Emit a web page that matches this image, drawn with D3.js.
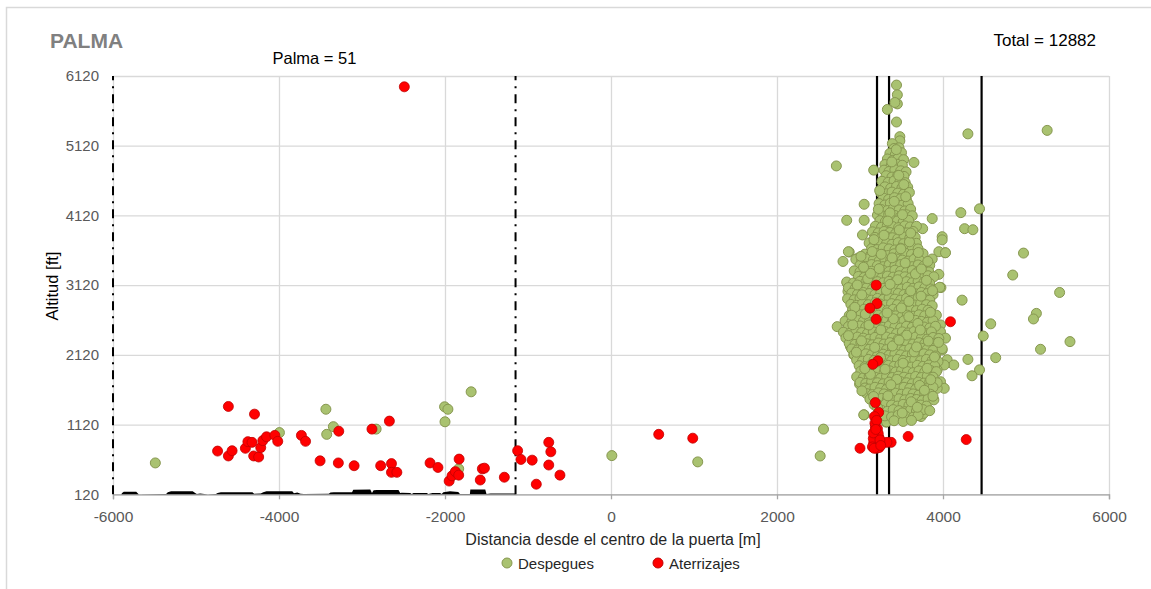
<!DOCTYPE html>
<html>
<head>
<meta charset="utf-8">
<script src="https://cdn.jsdelivr.net/npm/d3@7"></script>
<style>
  html, body { margin: 0; padding: 0; background: #ffffff; }
  svg { display: block; font-family: "Liberation Sans", Arial, sans-serif; }
</style>
</head>
<body>
<script>
// Axis ticks
const xTicks = [-6000, -4000, -2000, 0, 2000, 4000, 6000];
const yTicks = [120, 1120, 2120, 3120, 4120, 5120, 6120];

// Reference lines (distance in m)
const gateLines = [-6000, -1150];
const runwayLines = [3205, 3350, 4465];

// Ground profile under the approach path [distance m, altitude ft]
const terrain = [
  [-5900,120],[-5890,140],[-5870,155],[-5720,155],[-5700,130],[-5690,122],[-5360,124],[-5340,150],
  [-5300,162],[-5040,162],[-5010,140],[-4990,124],[-4950,133],[-4900,126],[-4860,122],[-4760,126],
  [-4740,140],[-4700,150],[-4320,150],[-4300,128],[-4220,132],[-4190,150],[-4150,162],[-3840,162],
  [-3820,135],[-3780,145],[-3740,128],[-3700,124],[-3400,128],[-3380,145],[-3340,150],[-3120,150],
  [-3105,185],[-2900,188],[-2880,140],[-2860,178],[-2820,182],[-2560,182],[-2540,140],[-2520,142],
  [-2420,140],[-2400,124],[-2380,140],[-2220,140],[-2200,124],[-2150,138],[-2060,138],[-2040,124],
  [-2020,150],[-1940,165],[-1840,152],[-1820,124],[-1700,124],[-1695,190],[-1515,190],[-1500,124],
  [-1450,132],[-1160,132],[-1150,120]
];

// Departures [distance m, altitude ft]
const takeoffs = [
  // scattered
  [-5490,570],[-3995,1005],[-3435,1340],[-3345,1090],[-3425,980],[-2830,1055],[-1685,1590],
  [-2005,1375],[-1965,1340],[-2000,1160],[-1835,485],[10,675],[1045,585],[2560,1055],[2520,670],
  [3050,1260],[3315,1155],
  [4970,3580],[4840,3265],[5405,3015],[5125,2715],[5090,2635],[5530,2310],[5175,2200],[4575,2565],
  [4485,2390],[4635,2080],[4300,2055],[4440,1905],[4350,1820],[4230,2905],[5255,5340],[4300,5290],
  [2715,4830],[3165,4770],[3650,4880],[3050,4280],[2840,4050],[3050,4050],[3030,3840],[2870,3595],
  [4215,4160],[4440,4215],[4260,3930],[4360,3915],[3990,3815],[3870,4075],[3755,3930],[4025,3585],
  [3950,3600],
  // cluster edges
  [3990,3770],[4030,3585],[3870,3495],[3825,3305],[3950,3275],[3835,3120],[3975,3085],[3850,2755],
  [3970,2550],[3970,2450],[4030,2360],[3990,2190],[4050,2050],[4130,1975],[4015,1975],[3930,1905],
  [3970,1735],[4015,1640],[3930,1640],
  [2860,3600],[2795,3460],[2845,3150],[2855,3030],[2725,2525],[2825,2455],[2870,2525],[2885,2240],
  [2925,2120],[3025,1830],[2995,1700],[3065,1615],[2980,3510],[3065,3470],
  [3045,1260],[3320,1160],[3735,1235],[3765,1280],[3400,1285],
  // upper column
  [3440,5990],[3450,5850],[3450,5720],[3420,5740],[3330,5640],[3440,5460],[3480,5250],[3480,5190],[3390,5150],
  [3410,5080],[3470,5090],
  [3360,5010],[3425,4990],[3500,5020],
  [3330,4930],[3395,4910],[3460,4940],[3525,4920],
  [3300,4850],[3375,4830],[3445,4855],[3510,4840],
  [3290,4770],[3350,4750],[3420,4775],[3490,4760],[3555,4745],
  [3315,4690],[3385,4670],[3455,4695],[3530,4680],
  [3265,4610],[3340,4595],[3410,4615],[3480,4600],[3545,4590],
  [3300,4530],[3370,4510],[3440,4535],[3505,4515],[3575,4525],
  [3250,4445],[3320,4430],[3385,4455],[3455,4440],[3525,4425],[3595,4450],
  [3280,4370],[3345,4350],[3415,4375],[3490,4360],[3560,4345],
  [3230,4290],[3300,4270],[3365,4295],[3440,4280],[3505,4265],[3580,4290],
  [3255,4205],[3330,4190],[3400,4215],[3470,4200],[3540,4185],[3610,4210],
  [3210,4125],[3280,4110],[3345,4135],[3420,4120],[3490,4105],[3560,4130],[3630,4115],
  [3240,4045],[3305,4030],[3380,4055],[3450,4040],[3520,4025],[3585,4050],
  [3185,3965],[3260,3950],[3330,3975],[3395,3960],[3465,3945],[3540,3970],[3605,3955],[3680,3965],
  [3150,3885],[3220,3870],[3290,3890],[3360,3875],[3430,3860],[3500,3885],[3570,3870],[3640,3890],
  [3180,3805],[3250,3790],[3320,3815],[3390,3800],[3455,3785],[3530,3810],[3600,3795],[3665,3805],
  [3110,3725],[3175,3710],[3250,3735],[3320,3720],[3385,3705],[3460,3730],[3525,3715],[3600,3740],[3680,3720],
  [3140,3645],[3205,3630],[3280,3655],[3350,3640],[3420,3625],[3490,3650],[3560,3635],[3630,3655],[3700,3640],
  // main body
  [3060,3565],[3130,3550],[3195,3575],[3270,3560],[3340,3545],[3410,3570],[3480,3555],[3550,3575],[3620,3560],[3690,3545],[3760,3570],
  [2950,3490],[3020,3470],[3090,3495],[3160,3480],[3230,3465],[3300,3490],[3370,3475],[3440,3495],[3510,3480],[3580,3465],[3650,3490],[3720,3475],
  [3000,3405],[3070,3390],[3140,3415],[3210,3400],[3280,3385],[3350,3410],[3420,3395],[3490,3415],[3560,3400],[3630,3385],[3700,3410],[3770,3395],[3840,3405],
  [2930,3325],[3000,3310],[3065,3335],[3140,3320],[3210,3305],[3280,3330],[3350,3315],[3420,3335],[3490,3320],[3560,3305],[3630,3330],[3700,3315],[3770,3335],[3830,3310],
  [2980,3245],[3050,3230],[3120,3255],[3190,3240],[3260,3225],[3330,3250],[3400,3235],[3470,3255],[3540,3240],[3610,3225],[3680,3250],[3750,3235],[3820,3255],[3890,3240],
  [2840,3165],[2920,3150],[3000,3175],[3070,3160],[3140,3145],[3210,3170],[3280,3155],[3350,3175],[3420,3160],[3490,3145],[3560,3170],[3630,3155],[3700,3175],[3770,3160],[3840,3145],
  [2860,3085],[2940,3070],[3010,3095],[3080,3080],[3150,3065],[3220,3090],[3290,3075],[3360,3095],[3430,3080],[3500,3065],[3570,3090],[3640,3075],[3710,3095],[3780,3080],[3850,3065],[3960,3090],
  [2900,3005],[2970,2990],[3040,3015],[3110,3000],[3180,2985],[3250,3010],[3320,2995],[3390,3015],[3460,3000],[3530,2985],[3600,3010],[3670,2995],[3740,3015],[3810,3000],[3880,2985],
  [2850,2925],[2930,2910],[3000,2935],[3070,2920],[3140,2905],[3210,2930],[3280,2915],[3350,2935],[3420,2920],[3490,2905],[3560,2930],[3630,2915],[3700,2935],[3770,2920],[3840,2905],
  [2890,2845],[2960,2830],[3030,2855],[3100,2840],[3170,2825],[3240,2850],[3310,2835],[3380,2855],[3450,2840],[3520,2825],[3590,2850],[3660,2835],[3730,2855],[3800,2840],[3870,2825],
  [2910,2765],[2980,2750],[3050,2775],[3120,2760],[3190,2745],[3260,2770],[3330,2755],[3400,2775],[3470,2760],[3540,2745],[3610,2770],[3680,2755],[3750,2775],[3820,2760],
  [2870,2685],[2940,2670],[3010,2695],[3080,2680],[3150,2665],[3220,2690],[3290,2675],[3360,2695],[3430,2680],[3500,2665],[3570,2690],[3640,2675],[3710,2695],[3780,2680],[3850,2665],[3920,2690],
  [2820,2605],[2900,2590],[2970,2615],[3040,2600],[3110,2585],[3180,2610],[3250,2595],[3320,2615],[3390,2600],[3460,2585],[3530,2610],[3600,2595],[3670,2615],[3740,2600],[3810,2585],[3880,2610],
  [2860,2525],[2930,2510],[3000,2535],[3070,2520],[3140,2505],[3210,2530],[3280,2515],[3350,2535],[3420,2520],[3490,2505],[3560,2530],[3630,2515],[3700,2535],[3770,2520],[3840,2505],[3910,2530],
  [2800,2445],[2880,2430],[2950,2455],[3020,2440],[3090,2425],[3160,2450],[3230,2435],[3300,2455],[3370,2440],[3440,2425],[3510,2450],[3580,2435],[3650,2455],[3720,2440],[3790,2425],[3860,2450],
  [2830,2365],[2900,2350],[2970,2375],[3040,2360],[3110,2345],[3180,2370],[3250,2355],[3320,2375],[3390,2360],[3460,2345],[3530,2370],[3600,2355],[3670,2375],[3740,2360],[3810,2345],[3880,2370],[3950,2355],
  [2870,2285],[2940,2270],[3010,2295],[3080,2280],[3150,2265],[3220,2290],[3290,2275],[3360,2295],[3430,2280],[3500,2265],[3570,2290],[3640,2275],[3710,2295],[3780,2280],[3850,2265],[3920,2290],
  [2900,2205],[2970,2190],[3040,2215],[3110,2200],[3180,2185],[3250,2210],[3320,2195],[3390,2215],[3460,2200],[3530,2185],[3600,2210],[3670,2195],[3740,2215],[3810,2200],[3880,2185],[3990,2210],
  [2930,2125],[3000,2110],[3070,2135],[3140,2120],[3210,2105],[3280,2130],[3350,2115],[3420,2135],[3490,2120],[3560,2105],[3630,2130],[3700,2115],[3770,2135],[3840,2120],[3910,2105],
  [2960,2045],[3030,2030],[3100,2055],[3170,2040],[3240,2025],[3310,2050],[3380,2035],[3450,2055],[3520,2040],[3590,2025],[3660,2050],[3730,2035],[3800,2055],[3870,2040],[3940,2025],
  [2990,1965],[3060,1950],[3130,1975],[3200,1960],[3270,1945],[3340,1970],[3410,1955],[3480,1975],[3550,1960],[3620,1945],[3690,1970],[3760,1955],[3830,1975],[3900,1960],
  [3010,1885],[3080,1870],[3150,1895],[3220,1880],[3290,1865],[3360,1890],[3430,1875],[3500,1895],[3570,1880],[3640,1865],[3710,1890],[3780,1875],[3850,1895],[3920,1880],
  [2960,1805],[3040,1790],[3110,1815],[3180,1800],[3250,1785],[3320,1810],[3390,1795],[3460,1815],[3530,1800],[3600,1785],[3670,1810],[3740,1795],[3810,1815],[3880,1800],
  [3000,1725],[3070,1710],[3140,1735],[3210,1720],[3280,1705],[3350,1730],[3420,1715],[3490,1735],[3560,1720],[3630,1705],[3700,1730],[3770,1715],[3840,1735],[3930,1720],
  [3060,1645],[3110,1630],[3180,1655],[3250,1640],[3320,1625],[3390,1650],[3460,1635],[3530,1655],[3600,1640],[3670,1625],[3740,1650],[3810,1635],[3880,1655],
  [3080,1565],[3150,1550],[3220,1575],[3290,1560],[3360,1545],[3430,1570],[3500,1555],[3570,1575],[3640,1560],[3710,1545],[3780,1570],[3850,1555],
  [3120,1485],[3190,1470],[3260,1495],[3330,1480],[3400,1465],[3470,1490],[3540,1475],[3610,1495],[3680,1480],[3750,1465],[3820,1490],[3890,1475],
  [3170,1405],[3240,1390],[3310,1415],[3380,1400],[3450,1385],[3520,1410],[3590,1395],[3660,1415],[3730,1400],[3800,1385],
  [3260,1325],[3330,1310],[3400,1335],[3470,1320],[3540,1305],[3610,1330],[3680,1315],[3760,1335],[3840,1320],
  [3300,1245],[3380,1230],[3460,1255],[3550,1240],[3640,1225],[3700,1250],
  [3410,1175],[3520,1165],[3620,1180],
  // later flights over the body
  [3237,4477],[3412,4322],[3528,4563],[3361,4158],[3473,3912],[3289,3837],[3596,3741],[3148,3602],
  [3703,3588],[3012,3533],[3387,3512],[3544,3438],[3231,3357],[3668,3281],[3093,3213],[3452,3198],
  [3801,3189],[2967,3122],[3318,3047],[3611,3038],[3736,2962],[3187,2871],[2938,2802],[3498,2793],
  [3848,2731],[3064,2706],[3403,2637],[3697,2571],[2913,2552],[3251,2478],[3563,2403],[3823,2318],
  [3018,2322],[3391,2247],[3652,2163],[2956,2158],[3247,2082],[3519,2001],[3809,1927],[3126,1841],
  [3443,1768],[3718,1682],[3023,1604],[3337,1532],[3617,1447],[3879,1527],[3211,1363],[3509,1287],
  [3691,1368],[3163,1523],[3776,1613],[3372,1691],[3058,1923],[3898,2089],[3177,2227],[3471,2331],
  [2861,2396],[3727,2477],[3108,2548],[3326,2722],[3589,2887],[3022,2981],[3874,3041],[3363,3132],
  [3126,3289],[3739,3352],[3492,3641],[3256,3563],[3611,3867],[3334,4039],[3551,4388],[3221,4208],
  [3467,4695],[3383,4888],[3437,5064],[3512,4131],[3168,3773],[3817,3461],[2897,2689],[3946,2299],
  [3852,1764],[3302,1914],[3588,2669],[3043,3377],[3681,2234]
];

// Arrivals [distance m, altitude ft]
const landings = [
  [-2490,5965],
  [-4610,1380],[-4295,1270],[-4740,740],[-4610,670],[-4565,745],[-4405,780],[-4375,875],[-4325,865],
  [-4305,670],[-4245,655],[-4220,790],[-4195,890],[-4150,945],[-4050,965],[-4015,880],[-3730,965],
  [-3680,880],[-3505,600],[-3285,570],[-3280,1025],[-3095,530],[-2880,1055],[-2775,530],[-2670,1170],
  [-2645,560],[-2645,435],[-2580,435],[-2180,570],[-2085,505],[-1830,625],[-1950,310],[-1915,385],
  [-1875,445],[-1835,395],[-1550,485],[-1525,495],[-1575,325],[-1285,365],[-1125,745],[-1085,620],
  [-950,610],[-750,865],[-725,730],[-750,540],[-900,265],[-615,395],[575,980],[985,925],
  [3000,780],[3580,950],[4280,905],[3375,865],[3325,865],
  [3195,3120],[3205,2855],[3120,2790],[3195,2630],[3215,2035],[3155,1985],[4090,2595],
  [3185,1435],[3225,1295],[3175,1235],[3185,1090],[3205,1020],[3195,900],[3165,850],[3205,805],
  [3180,830],[3210,820],[3170,870],[3220,880],[3190,960],[3230,930],[3160,920],[3240,850],
  [3150,800],[3200,780],[3230,790],[3170,780],[3210,1060],[3180,1140],[3200,1180],[3220,990],
  [3160,1000],[3190,1050],[3240,900],[3250,820]
];

const W = 1151, H = 589;
const plotL = 113, plotR = 1109, plotT = 76, plotB = 494.3;

const svg = d3.select("body").append("svg").attr("width", W).attr("height", H);
svg.append("rect").attr("width", W).attr("height", H).attr("fill", "#ffffff");
// chart frame
svg.append("rect").attr("x", 6.5).attr("y", 7.5).attr("width", 1300).attr("height", 800)
  .attr("fill", "none").attr("stroke", "#d9d9d9").attr("stroke-width", 1.5);

const x = d3.scaleLinear().domain([-6000, 6000]).range([plotL, plotR]);
const y = d3.scaleLinear().domain([120, 6120]).range([plotB, plotT]);
const fmt = d => String(d); // plain hyphen for negatives

// gridlines
const gx = svg.append("g").attr("transform", `translate(0,${plotB})`)
  .call(d3.axisBottom(x).tickValues(xTicks).tickSize(-(plotB - plotT)).tickFormat(""));
gx.select(".domain").remove();
gx.selectAll("line").attr("stroke", "#d9d9d9").attr("stroke-width", 1.3);

const gy = svg.append("g").attr("transform", `translate(${plotL},0)`)
  .call(d3.axisLeft(y).tickValues(yTicks).tickSize(-(plotR - plotL)).tickFormat(""));
gy.select(".domain").remove();
gy.selectAll("line").attr("stroke", "#d9d9d9").attr("stroke-width", 1.3);

// x axis
const ax = svg.append("g").attr("transform", `translate(0,${plotB})`)
  .call(d3.axisBottom(x).tickValues(xTicks).tickSize(5).tickPadding(12).tickFormat(fmt));
ax.select(".domain").attr("stroke", "#a6a6a6").attr("stroke-width", 1.3);
ax.selectAll("line").attr("stroke", "#a6a6a6").attr("stroke-width", 1.3);
ax.selectAll("text").attr("fill", "#595959").style("font-size", "15.5px")
  .style("font-family", "'Liberation Sans', Arial, sans-serif");

// y axis labels
const ay = svg.append("g").attr("transform", `translate(${plotL},0)`)
  .call(d3.axisLeft(y).tickValues(yTicks).tickSize(0).tickPadding(14).tickFormat(fmt));
ay.select(".domain").remove();
ay.selectAll("text").attr("fill", "#595959").style("font-size", "15px")
  .style("font-family", "'Liberation Sans', Arial, sans-serif");

// ground profile
svg.append("path").datum(terrain)
  .attr("d", d3.area().x(d => x(d[0])).y0(y(120)).y1(d => y(d[1])))
  .attr("fill", "#000000");

// reference lines
svg.selectAll("line.gate").data(gateLines).join("line")
  .attr("class", "gate")
  .attr("x1", d => x(d)).attr("x2", d => x(d))
  .attr("y1", y(120)).attr("y2", y(6120))
  .attr("stroke", "#000").attr("stroke-width", 2)
  .attr("stroke-dasharray", "9,6,2,6");

svg.selectAll("line.rwy").data(runwayLines).join("line")
  .attr("class", "rwy")
  .attr("x1", d => x(d)).attr("x2", d => x(d))
  .attr("y1", y(120)).attr("y2", y(6120))
  .attr("stroke", "#000").attr("stroke-width", 2.2);

// departures
const greenFill = "#a9c270", greenStroke = "#879750";
const redFill = "#ff0000", redStroke = "#c00000";

svg.append("g").selectAll("circle").data(takeoffs).join("circle")
  .attr("cx", d => x(d[0])).attr("cy", d => y(d[1])).attr("r", 5)
  .attr("fill", greenFill).attr("stroke", greenStroke).attr("stroke-width", 1);

// arrivals
svg.append("g").selectAll("circle").data(landings).join("circle")
  .attr("cx", d => x(d[0])).attr("cy", d => y(d[1])).attr("r", 5)
  .attr("fill", redFill).attr("stroke", redStroke).attr("stroke-width", 0.8);

// titles
svg.append("text").attr("x", 50).attr("y", 48).text("PALMA")
  .attr("fill", "#808080").style("font-size", "21px").style("font-weight", "bold");
svg.append("text").attr("x", 272.5).attr("y", 64).text("Palma = 51")
  .attr("fill", "#000").style("font-size", "16.5px");
svg.append("text").attr("x", 1096).attr("y", 46).attr("text-anchor", "end").text("Total = 12882")
  .attr("fill", "#000").style("font-size", "17px");

// axis titles
svg.append("text").attr("x", (plotL + plotR) / 2 + 2).attr("y", 545).attr("text-anchor", "middle")
  .text("Distancia desde el centro de la puerta [m]").attr("fill", "#262626").style("font-size", "16px");
svg.append("text").attr("transform", "translate(58,286) rotate(-90)").attr("text-anchor", "middle")
  .text("Altitud [ft]").attr("fill", "#000").style("font-size", "16.5px");

// legend
const legend = [
  { label: "Despegues", fill: greenFill, stroke: greenStroke, cx: 507 },
  { label: "Aterrizajes", fill: redFill, stroke: redStroke, cx: 658 }
];
const lg = svg.append("g").selectAll("g").data(legend).join("g");
lg.append("circle").attr("cx", d => d.cx).attr("cy", 563).attr("r", 5)
  .attr("fill", d => d.fill).attr("stroke", d => d.stroke).attr("stroke-width", 1);
lg.append("text").attr("x", d => d.cx + 11).attr("y", 568.5).text(d => d.label)
  .attr("fill", "#262626").style("font-size", "15px");
</script>
</body>
</html>
